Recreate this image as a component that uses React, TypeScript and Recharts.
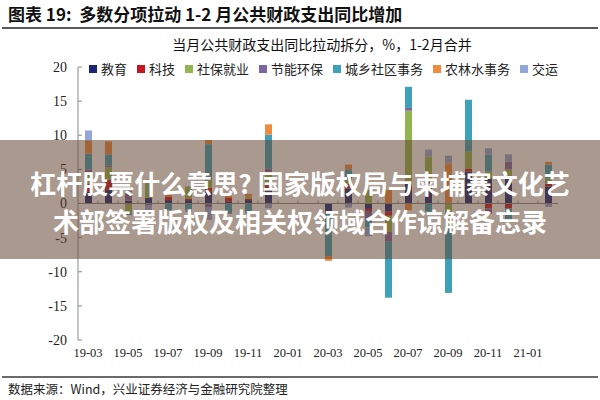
import React from 'react';
import { BarChart, Bar, XAxis, YAxis, ReferenceLine, Legend } from 'recharts';

// 当月公共财政支出同比拉动拆分（%），1-2月合并
const months = [
  '19-03', '19-04', '19-05', '19-06', '19-07', '19-08', '19-09', '19-10',
  '19-11', '19-12', '20-01', '20-02', '20-03', '20-04', '20-05', '20-06',
  '20-07', '20-08', '20-09', '20-10', '20-11', '20-12', '21-01', '21-02',
];

const education = [1.7, 2.0, 0.4, 0.8, 0.5, 0.5, 1.7, 0.3, 0.5, 2.0, 0, 0, -1.3, 2.2, -0.8, -1.2, 2.9, 3.2, 0, 4.7, 3.7, 4.0, 0, 2.5];
const technology = [1.2, 1.5, 0, 0, 0.5, 0.2, 0.6, 0.5, 0.2, 0.7, 0, 0, -0.2, 0.7, -0.3, -0.6, 0.4, 0, 0, 0.4, -0.7, -0.7, 0, 0.4];
const socialSecurity = [1.6, 1.8, -1.3, 2.7, 0, 1.8, 1.1, 0, 0.3, 1.9, 0, 0, 0, 0.5, 2.0, -2.3, 10.3, 3.7, -3.6, 2.5, 1.0, 1.0, 0, 0.8];
const environment = [0.5, 0.3, 1.0, -0.3, 0, 0, -0.6, 0, 0, 0.5, 0, 0, 0, 0.3, -1.2, -1.5, 0.4, 0, 0, 0, -0.8, 1.1, 0, 0];
const community = [2.3, 1.6, -0.4, 0, -1.0, -0.8, 5.3, -1.5, -1.2, 5.0, 0, 0, -6.2, 1.3, -1.2, -8.2, 3.1, -1.2, -9.5, 7.6, 2.5, -1.9, 0, 2.0];
const agriculture = [1.9, 1.9, 0, 0, 0.3, 0, 0.6, 0.3, 0.4, 1.5, 0, 0, -0.7, 0.7, 0, 2.0, -1.0, 0, 5.9, 0, 0, 0, 0, 0.4];
const transport = [1.5, 0, 0.5, -0.7, 0, -0.4, -1.8, 0, -0.3, -0.7, 0, 0, 0, -0.6, -1.3, 0, 0, 1.0, 1.1, 0, 0.9, 1.1, 0, -0.5];

const yTicks = [-20, -15, -10, -5, 0, 5, 10, 15, 20];

const SERIES = [
  { key: 'education', name: '教育', color: '#1C2475', values: education },
  { key: 'technology', name: '科技', color: '#C8141E', values: technology },
  { key: 'socialSecurity', name: '社保就业', color: '#92B550', values: socialSecurity },
  { key: 'environment', name: '节能环保', color: '#7E64A0', values: environment },
  { key: 'community', name: '城乡社区事务', color: '#3FA0B9', values: community },
  { key: 'agriculture', name: '农林水事务', color: '#F08A3C', values: agriculture },
  { key: 'transport', name: '交运', color: '#93A6DA', values: transport },
];

const data = months.map((month, i) => {
  const row: Record<string, string | number> = { month };
  SERIES.forEach((s) => {
    row[s.key] = s.values[i];
  });
  return row;
});

const FONT_CN = '"Noto Sans CJK SC", "Noto Sans", sans-serif';
const FONT_NUM = '"Liberation Serif", "DejaVu Serif", serif';

// keep the legend in series order (Recharts sorts its payload by name)
const renderLegend = (props: any) => {
  const payload: any[] = props.payload || [];
  const ordered = SERIES.map((s) => payload.find((p) => p.dataKey === s.key) || { value: s.name, color: s.color });
  return (
    <div style={{ display: 'flex', fontSize: 13, color: '#222', whiteSpace: 'nowrap', fontFamily: FONT_CN }}>
      {ordered.map((entry: any) => (
        <span key={entry.value} style={{ display: 'inline-flex', alignItems: 'center', marginRight: 10 }}>
          <span style={{ display: 'inline-block', width: 8, height: 8, background: entry.color, marginRight: 4 }} />
          {entry.value}
        </span>
      ))}
    </div>
  );
};

// zero line with small category ticks, as in the original axis
const ZeroLine = (props: any) => {
  const { x1, y1, x2, y2, stroke } = props;
  const n = months.length;
  const step = (x2 - x1) / n;
  const ticks = [];
  for (let i = 1; i < n; i++) {
    const x = x1 + step * i;
    ticks.push(<line key={i} x1={x} x2={x} y1={y1} y2={y1 - 3} stroke={stroke} />);
  }
  return (
    <g>
      <line x1={x1} y1={y1} x2={x2} y2={y2} stroke={stroke} strokeWidth={1.2} />
      {ticks}
    </g>
  );
};

export default function App() {
  return (
    <div style={{ position: 'absolute', left: 0, top: 0, width: 600, height: 400, background: '#fff', overflow: 'hidden' }}>
      <div
        style={{
          position: 'absolute',
          left: 8,
          top: 1,
          fontSize: 17,
          fontWeight: 700,
          fontFamily: FONT_CN,
          color: '#111',
          whiteSpace: 'nowrap',
        }}
      >
        图表 19:&nbsp; 多数分项拉动 1-2 月公共财政支出同比增加
      </div>
      <div style={{ position: 'absolute', left: 2, right: 2, top: 27, height: 2, background: '#5a5a5a' }} />
      <div
        style={{
          position: 'absolute',
          left: 0,
          width: 644,
          top: 34,
          textAlign: 'center',
          fontSize: 14,
          fontFamily: FONT_CN,
          color: '#111',
        }}
      >
        当月公共财政支出同比拉动拆分，%，1-2月合并
      </div>

      <div style={{ position: 'absolute', left: 0, top: 0 }}>
        <BarChart
          width={600}
          height={400}
          data={data}
          stackOffset="sign"
          barSize={7}
          margin={{ top: 67, right: 42, bottom: 40, left: 0 }}
        >
          <XAxis
            dataKey="month"
            interval={1}
            axisLine={false}
            tickLine={false}
            height={20}
            tick={{ fontSize: 12.5, fill: '#222', fontFamily: FONT_NUM }}
          />
          <YAxis
            domain={[-20, 20]}
            ticks={yTicks}
            interval={0}
            width={78}
            tickSize={-4}
            tickMargin={15}
            stroke="#8a8a8a"
            tick={{ fontSize: 14, fill: '#222', fontFamily: FONT_NUM }}
          />
          <Legend
            verticalAlign="middle"
            align="center"
            layout="horizontal"
            content={renderLegend}
            wrapperStyle={{ top: 59, left: 89, width: 'auto', height: 'auto' }}
          />
          {SERIES.map((s) => (
            <Bar
              key={s.key}
              dataKey={s.key}
              name={s.name}
              stackId="a"
              fill={s.color}
              isAnimationActive={false}
            />
          ))}
          <ReferenceLine y={0} stroke="#8a8a8a" shape={ZeroLine} />
        </BarChart>
      </div>

      <div style={{ position: 'absolute', left: 2, right: 2, top: 376, height: 2, background: '#6a6a6a' }} />
      <div
        style={{
          position: 'absolute',
          left: 8,
          top: 379,
          fontSize: 12.5,
          fontFamily: FONT_CN,
          color: '#222',
          whiteSpace: 'nowrap',
        }}
      >
        数据来源：Wind，兴业证券经济与金融研究院整理
      </div>

      <div
        style={{
          position: 'absolute',
          left: 0,
          top: 140,
          width: 600,
          height: 119,
          background: 'rgba(100, 70, 50, 0.55)',
          color: '#fff',
          fontFamily: FONT_CN,
          fontWeight: 700,
          fontSize: 26,
          lineHeight: '38px',
          textAlign: 'center',
          paddingTop: 24,
          boxSizing: 'border-box',
          whiteSpace: 'nowrap',
        }}
      >
        杠杆股票什么意思? 国家版权局与柬埔寨文化艺
        <br />
        术部签署版权及相关权领域合作谅解备忘录
      </div>
    </div>
  );
}
